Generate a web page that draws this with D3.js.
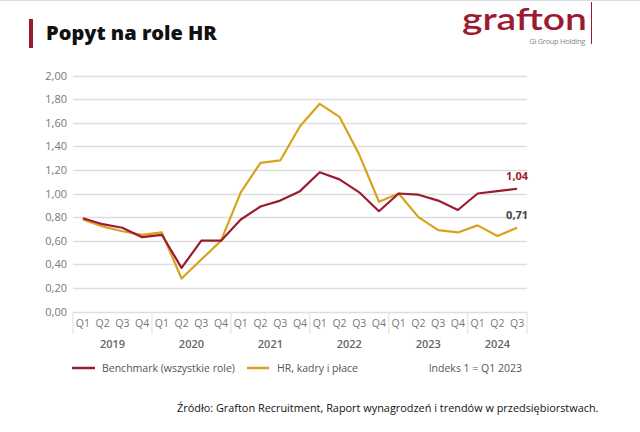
<!DOCTYPE html>
<html>
<head>
<meta charset="utf-8">
<script src="https://cdn.jsdelivr.net/npm/d3@7"></script>
<style>
  body { margin: 0; background: #fff; }
  svg { display: block; font-family: "Open Sans", Lato, sans-serif; }
</style>
</head>
<body>
<div id="chart"></div>
<script>
// years & quarters on the x axis
const years = ["2019", "2020", "2021", "2022", "2023", "2024"];
const periods = [
  "2019 Q1","2019 Q2","2019 Q3","2019 Q4",
  "2020 Q1","2020 Q2","2020 Q3","2020 Q4",
  "2021 Q1","2021 Q2","2021 Q3","2021 Q4",
  "2022 Q1","2022 Q2","2022 Q3","2022 Q4",
  "2023 Q1","2023 Q2","2023 Q3","2023 Q4",
  "2024 Q1","2024 Q2","2024 Q3"
];

// series
const benchmark = [0.79,0.74,0.71,0.63, 0.65,0.37,0.60,0.60, 0.78,0.89,0.94,1.02,
                   1.18,1.12,1.01,0.85, 1.00,0.99,0.94,0.86, 1.00,1.02,1.04];
const hr = [0.78,0.72,0.68,0.65, 0.67,0.28,0.44,0.60, 1.01,1.26,1.28,1.57,
            1.76,1.65,1.33,0.93, 1.00,0.80,0.69,0.67, 0.73,0.64,0.71];

const yTicks = [0, 0.2, 0.4, 0.6, 0.8, 1.0, 1.2, 1.4, 1.6, 1.8, 2.0];

const RED = "#9b1c31", GOLD = "#d9a21b";

const W = 640, H = 432;
const svg = d3.select("#chart").append("svg")
  .attr("width", W).attr("height", H);

// top page line
svg.append("line").attr("x1", 0).attr("x2", W).attr("y1", 0.5).attr("y2", 0.5)
  .attr("stroke", "#ddd");

// title
svg.append("rect").attr("x", 29).attr("y", 19).attr("width", 4).attr("height", 29).attr("fill", RED);
svg.append("text").attr("x", 46).attr("y", 40)
  .attr("font-size", 20).attr("font-weight", 800).attr("fill", "#111")
  .text("Popyt na role HR");

// logo
svg.append("text").attr("x", 462).attr("y", 30)
  .attr("font-size", 30).attr("font-weight", 600).attr("fill", RED)
  .attr("textLength", 125).attr("lengthAdjust", "spacingAndGlyphs")
  .style("font-family", "Lato, sans-serif")
  .text("grafton");
svg.append("text").attr("x", 585).attr("y", 44).attr("text-anchor", "end")
  .attr("font-size", 7.5).attr("fill", "#888").attr("letter-spacing", -0.3)
  .text("Gi Group Holding");
svg.append("line").attr("x1", 591.5).attr("x2", 591.5).attr("y1", 2).attr("y2", 44)
  .attr("stroke", RED).attr("stroke-width", 1);

// scales
const x = d3.scaleBand().domain(periods).range([73, 527]);
const y = d3.scaleLinear().domain([0, 2]).range([311.5, 75.5]);
const cx = d => x(d) + x.bandwidth() / 2;

// gridlines + y labels
svg.append("g").selectAll("line").data(yTicks).join("line")
  .attr("x1", 73).attr("x2", 527)
  .attr("y1", d => Math.round(y(d)) + 0.5).attr("y2", d => Math.round(y(d)) + 0.5)
  .attr("stroke", "#dedede").attr("stroke-width", 1.3);

svg.append("g").selectAll("text").data(yTicks).join("text")
  .attr("x", 67).attr("y", d => y(d) + 4).attr("text-anchor", "end")
  .attr("font-size", 11).attr("fill", "#777")
  .text(d => d3.format(".2f")(d).replace(".", ","));

// category axis: quarters
const axis = svg.append("g");
axis.selectAll("text.q").data(periods).join("text")
  .attr("class", "q")
  .attr("x", d => cx(d)).attr("y", 327).attr("text-anchor", "middle")
  .attr("font-size", 10.5).attr("fill", "#777")
  .text(d => d.split(" ")[1]);

// year separators
const bounds = [0, 4, 8, 12, 16, 20, 23];
axis.selectAll("line.sep").data(bounds).join("line")
  .attr("class", "sep")
  .attr("x1", i => i < periods.length ? x(periods[i]) : 527)
  .attr("x2", i => i < periods.length ? x(periods[i]) : 527)
  .attr("y1", 312).attr("y2", 334)
  .attr("stroke", "#dedede").attr("stroke-width", 1);

axis.selectAll("text.yr").data(years).join("text")
  .attr("class", "yr")
  .attr("x", (d, i) => {
    const a = x(periods[bounds[i]]);
    const b = bounds[i + 1] < periods.length ? x(periods[bounds[i + 1]]) : 527;
    return (a + b) / 2;
  })
  .attr("y", 348).attr("text-anchor", "middle")
  .attr("font-size", 11).attr("font-weight", 600).attr("fill", "#666")
  .text(d => d);

// lines
const line = d3.line().x((d, i) => cx(periods[i])).y(d => y(d));
svg.append("path").datum(hr).attr("d", line)
  .attr("fill", "none").attr("stroke", GOLD).attr("stroke-width", 2.2)
  .attr("stroke-linejoin", "round");
svg.append("path").datum(benchmark).attr("d", line)
  .attr("fill", "none").attr("stroke", RED).attr("stroke-width", 2.2)
  .attr("stroke-linejoin", "round");

// end labels
const last = periods.length - 1;
svg.append("text").attr("x", cx(periods[last]) + 11).attr("y", y(benchmark[last]) - 9)
  .attr("text-anchor", "end").attr("font-size", 11).attr("font-weight", 700).attr("fill", RED)
  .text(d3.format(".2f")(benchmark[last]).replace(".", ","));
svg.append("text").attr("x", cx(periods[last]) + 11).attr("y", y(hr[last]) - 9)
  .attr("text-anchor", "end").attr("font-size", 11).attr("font-weight", 700).attr("fill", "#444")
  .text(d3.format(".2f")(hr[last]).replace(".", ","));

// legend
const leg = svg.append("g").attr("font-size", 10.5).attr("fill", "#555");
leg.append("line").attr("x1", 72).attr("x2", 95).attr("y1", 368).attr("y2", 368)
  .attr("stroke", RED).attr("stroke-width", 2.5);
leg.append("text").attr("x", 102).attr("y", 372).text("Benchmark (wszystkie role)");
leg.append("line").attr("x1", 247).attr("x2", 269).attr("y1", 368).attr("y2", 368)
  .attr("stroke", GOLD).attr("stroke-width", 2.5);
leg.append("text").attr("x", 277).attr("y", 372).text("HR, kadry i płace");
leg.append("text").attr("x", 522).attr("y", 372).attr("text-anchor", "end").text("Indeks 1 = Q1 2023");

// source
svg.append("text").attr("x", 177).attr("y", 412)
  .attr("font-size", 10.9).attr("fill", "#111")
  .text("Źródło: Grafton Recruitment, Raport wynagrodzeń i trendów w przedsiębiorstwach.");
</script>
</body>
</html>
